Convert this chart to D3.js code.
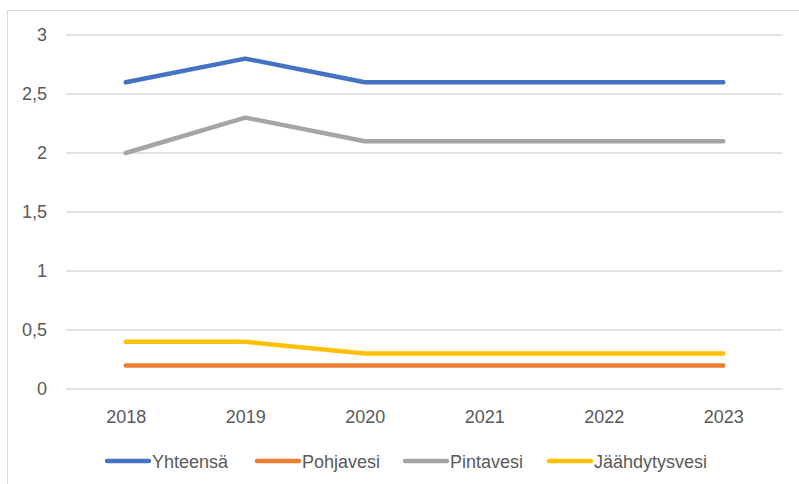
<!DOCTYPE html>
<html>
<head>
<meta charset="utf-8">
<script src="https://cdn.jsdelivr.net/npm/d3@7"></script>
<style>
  body { margin: 0; background: #fff; }
  text { font-family: "Liberation Sans", Arial, sans-serif; fill: #595959; }
</style>
</head>
<body>
<script>
// data
var years = ["2018", "2019", "2020", "2021", "2022", "2023"];
var yhteensa = [2.6, 2.8, 2.6, 2.6, 2.6, 2.6];
var pohjavesi = [0.2, 0.2, 0.2, 0.2, 0.2, 0.2];
var pintavesi = [2.0, 2.3, 2.1, 2.1, 2.1, 2.1];
var jaahdytysvesi = [0.4, 0.4, 0.3, 0.3, 0.3, 0.3];
var yTicks = [0, 0.5, 1, 1.5, 2, 2.5, 3];

var series = [
  { name: "Yhteensä", values: yhteensa, color: "#4472C4" },
  { name: "Pohjavesi", values: pohjavesi, color: "#ED7D31" },
  { name: "Pintavesi", values: pintavesi, color: "#A5A5A5" },
  { name: "Jäähdytysvesi", values: jaahdytysvesi, color: "#FFC000" }
];

var svgWidth = 799;
var svgHeight = 484;
var margin = { top: 35, right: 16, bottom: 95, left: 66 };
var chartWidth = svgWidth - margin.left - margin.right;
var chartHeight = svgHeight - margin.top - margin.bottom;

var svg = d3.select("body")
  .append("svg")
  .attr("width", svgWidth)
  .attr("height", svgHeight);

// outer chart border
svg.append("rect")
  .attr("x", 7.5)
  .attr("y", 10.5)
  .attr("width", 800)
  .attr("height", 480)
  .attr("fill", "none")
  .attr("stroke", "#d9d9d9");

var chartGroup = svg.append("g")
  .attr("transform", `translate(${margin.left}, ${margin.top})`);

var xScale = d3.scalePoint()
  .domain(years)
  .range([0, chartWidth])
  .padding(0.5);

var yScale = d3.scaleLinear()
  .domain([0, 3])
  .range([chartHeight, 0]);

var fmt = function(d) { return String(d).replace(".", ","); };

// gridlines
chartGroup.selectAll(".grid")
  .data(yTicks)
  .enter()
  .append("line")
  .attr("x1", 0)
  .attr("x2", chartWidth)
  .attr("y1", d => yScale(d))
  .attr("y2", d => yScale(d))
  .attr("stroke", "#d9d9d9")
  .attr("stroke-width", 1.3);

// y axis labels
var leftAxis = d3.axisLeft(yScale).tickValues(yTicks).tickFormat(fmt).tickSize(0).tickPadding(19);
var yAxis = chartGroup.append("g").call(leftAxis);
yAxis.select(".domain").remove();
yAxis.selectAll("text").attr("font-size", 18).style("fill", "#595959")
  .style("font-family", "Liberation Sans, Arial, sans-serif");

// x axis labels
var bottomAxis = d3.axisBottom(xScale).tickSize(0).tickPadding(21);
var xAxis = chartGroup.append("g")
  .attr("transform", `translate(0, ${chartHeight})`)
  .call(bottomAxis);
xAxis.select(".domain").remove();
xAxis.selectAll("text").attr("font-size", 18).style("fill", "#595959")
  .style("font-family", "Liberation Sans, Arial, sans-serif");

// lines
var line = d3.line()
  .x((d, i) => xScale(years[i]))
  .y(d => yScale(d));

chartGroup.selectAll(".series")
  .data(series)
  .enter()
  .append("path")
  .attr("d", d => line(d.values))
  .attr("fill", "none")
  .attr("stroke", d => d.color)
  .attr("stroke-width", 4.5)
  .attr("stroke-linecap", "round")
  .attr("stroke-linejoin", "round");

// legend
var legendX = [107, 257, 405, 549];
var legend = svg.selectAll(".legend")
  .data(series)
  .enter()
  .append("g")
  .attr("transform", (d, i) => `translate(${legendX[i]}, 461)`);

legend.append("line")
  .attr("x1", 0)
  .attr("x2", 42)
  .attr("y1", 0)
  .attr("y2", 0)
  .attr("stroke", d => d.color)
  .attr("stroke-width", 4.5)
  .attr("stroke-linecap", "round");

legend.append("text")
  .attr("x", 45)
  .attr("y", 6.5)
  .attr("font-size", 18)
  .text(d => d.name);
</script>
</body>
</html>
